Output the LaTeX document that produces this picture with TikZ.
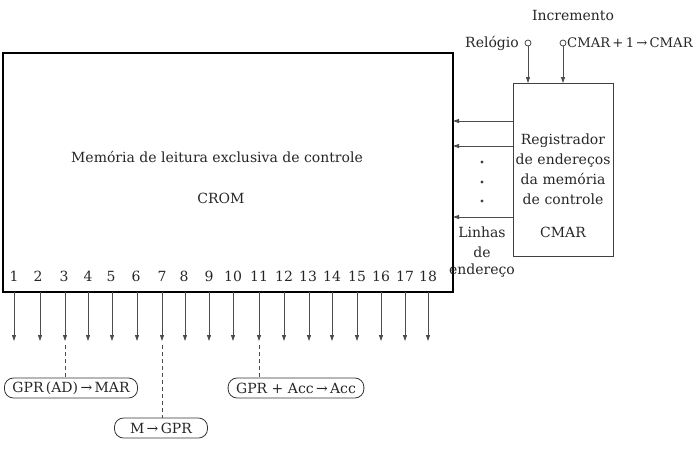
\documentclass[tikz,border=0pt]{standalone}
\usepackage{fontspec}
\setmainfont{DejaVu Serif}
\usetikzlibrary{arrows.meta}
\begin{document}
\begin{tikzpicture}[x=1pt,y=-1pt,
  every node/.style={font=\fontsize{14}{20}\selectfont, text=black!85, inner sep=0pt},
  line/.style={draw=black!70, line width=0.8pt},
  arr/.style={line, -{Triangle[length=6pt,width=4pt]}},
  dashln/.style={draw=black!70, line width=0.6pt, dash pattern=on 4pt off 3pt},
  op/.style={draw=black!80, line width=0.8pt, rounded corners=9pt, minimum height=20pt, inner xsep=8pt},
  port/.style={circle, draw=black!80, line width=0.7pt, minimum size=6pt, inner sep=0pt}]
\useasboundingbox (0,0) rectangle (700,451);
% main box
\node[draw=black, line width=2pt, minimum width=450pt, minimum height=239pt, anchor=north west] (crom) at (2,52) {};
\node (t1) at (217,157) {Memória de leitura exclusiva de controle};
\node (t2) at (221,198) {CROM};
% CMAR box
\node[draw=black!75, line width=0.8pt, minimum width=100pt, minimum height=173pt, anchor=north west] (cmar) at (513,83) {};
\node[align=center, text width=100pt] (ct) at (563,169) {Registrador\\de endereços\\da memória\\de controle};
\node (cm) at (563,232) {CMAR};
% inputs
\node[port] (clk) at (528,43) {};
\node[port] (inc) at (563,43) {};
\node[anchor=east] (lclk) at (519,43) {Relógio};
\node[anchor=west, font=\fontsize{13.2}{15}\selectfont] (linc) at (567,43) {CMAR\,+\,1\,→\,CMAR};
\node (incr) at (573,15) {Incremento};
\coordinate (clkin) at (528,83);
\coordinate (incin) at (563,83);
\draw[arr] (clk) -- (clkin);
\draw[arr] (inc) -- (incin);
% address lines
\foreach \y/\n in {121/a,146/b,217/c}{
  \coordinate (s\n) at (513,\y);
  \coordinate (e\n) at (453,\y);
  \draw[arr] (s\n) -- (e\n);
}
\foreach \y in {162,182,201}{\fill[black!75] (482,\y) circle (1.6pt);}
\node[align=center] (lin) at (482,252) {Linhas\\de\\[-3pt]endereço};
% outputs
\foreach \i/\xn/\xa in {1/14/14,2/38/40,3/64/65,4/88/88,5/111/112,6/136/137,7/162/162,8/184/185,9/209/209,10/233/233,11/259/259,12/284/284,13/308/309,14/332/332,15/357/357,16/381/381,17/405/405,18/428/428}{
  \node (n\i) at (\xn,276) {\i};
  \coordinate (o\i) at (\xa,292);
  \coordinate (p\i) at (\xa,341);
  \draw[arr] (o\i) -- (p\i);
}
\node[op, minimum width=127pt] (op1) at (71,388) {GPR\,(AD)\,→\,MAR};
\node[op, minimum width=93pt] (op2) at (161,428) {M\,→\,GPR};
\node[op, minimum width=133pt] (op3) at (296,388) {GPR + Acc\,→\,Acc};
\draw[dashln] (p3) ++(0,4) -- (op1.north -| p3);
\draw[dashln] (p7) ++(0,4) -- (op2.north -| p7);
\draw[dashln] (p11) ++(0,4) -- (op3.north -| p11);
\end{tikzpicture}
\end{document}
